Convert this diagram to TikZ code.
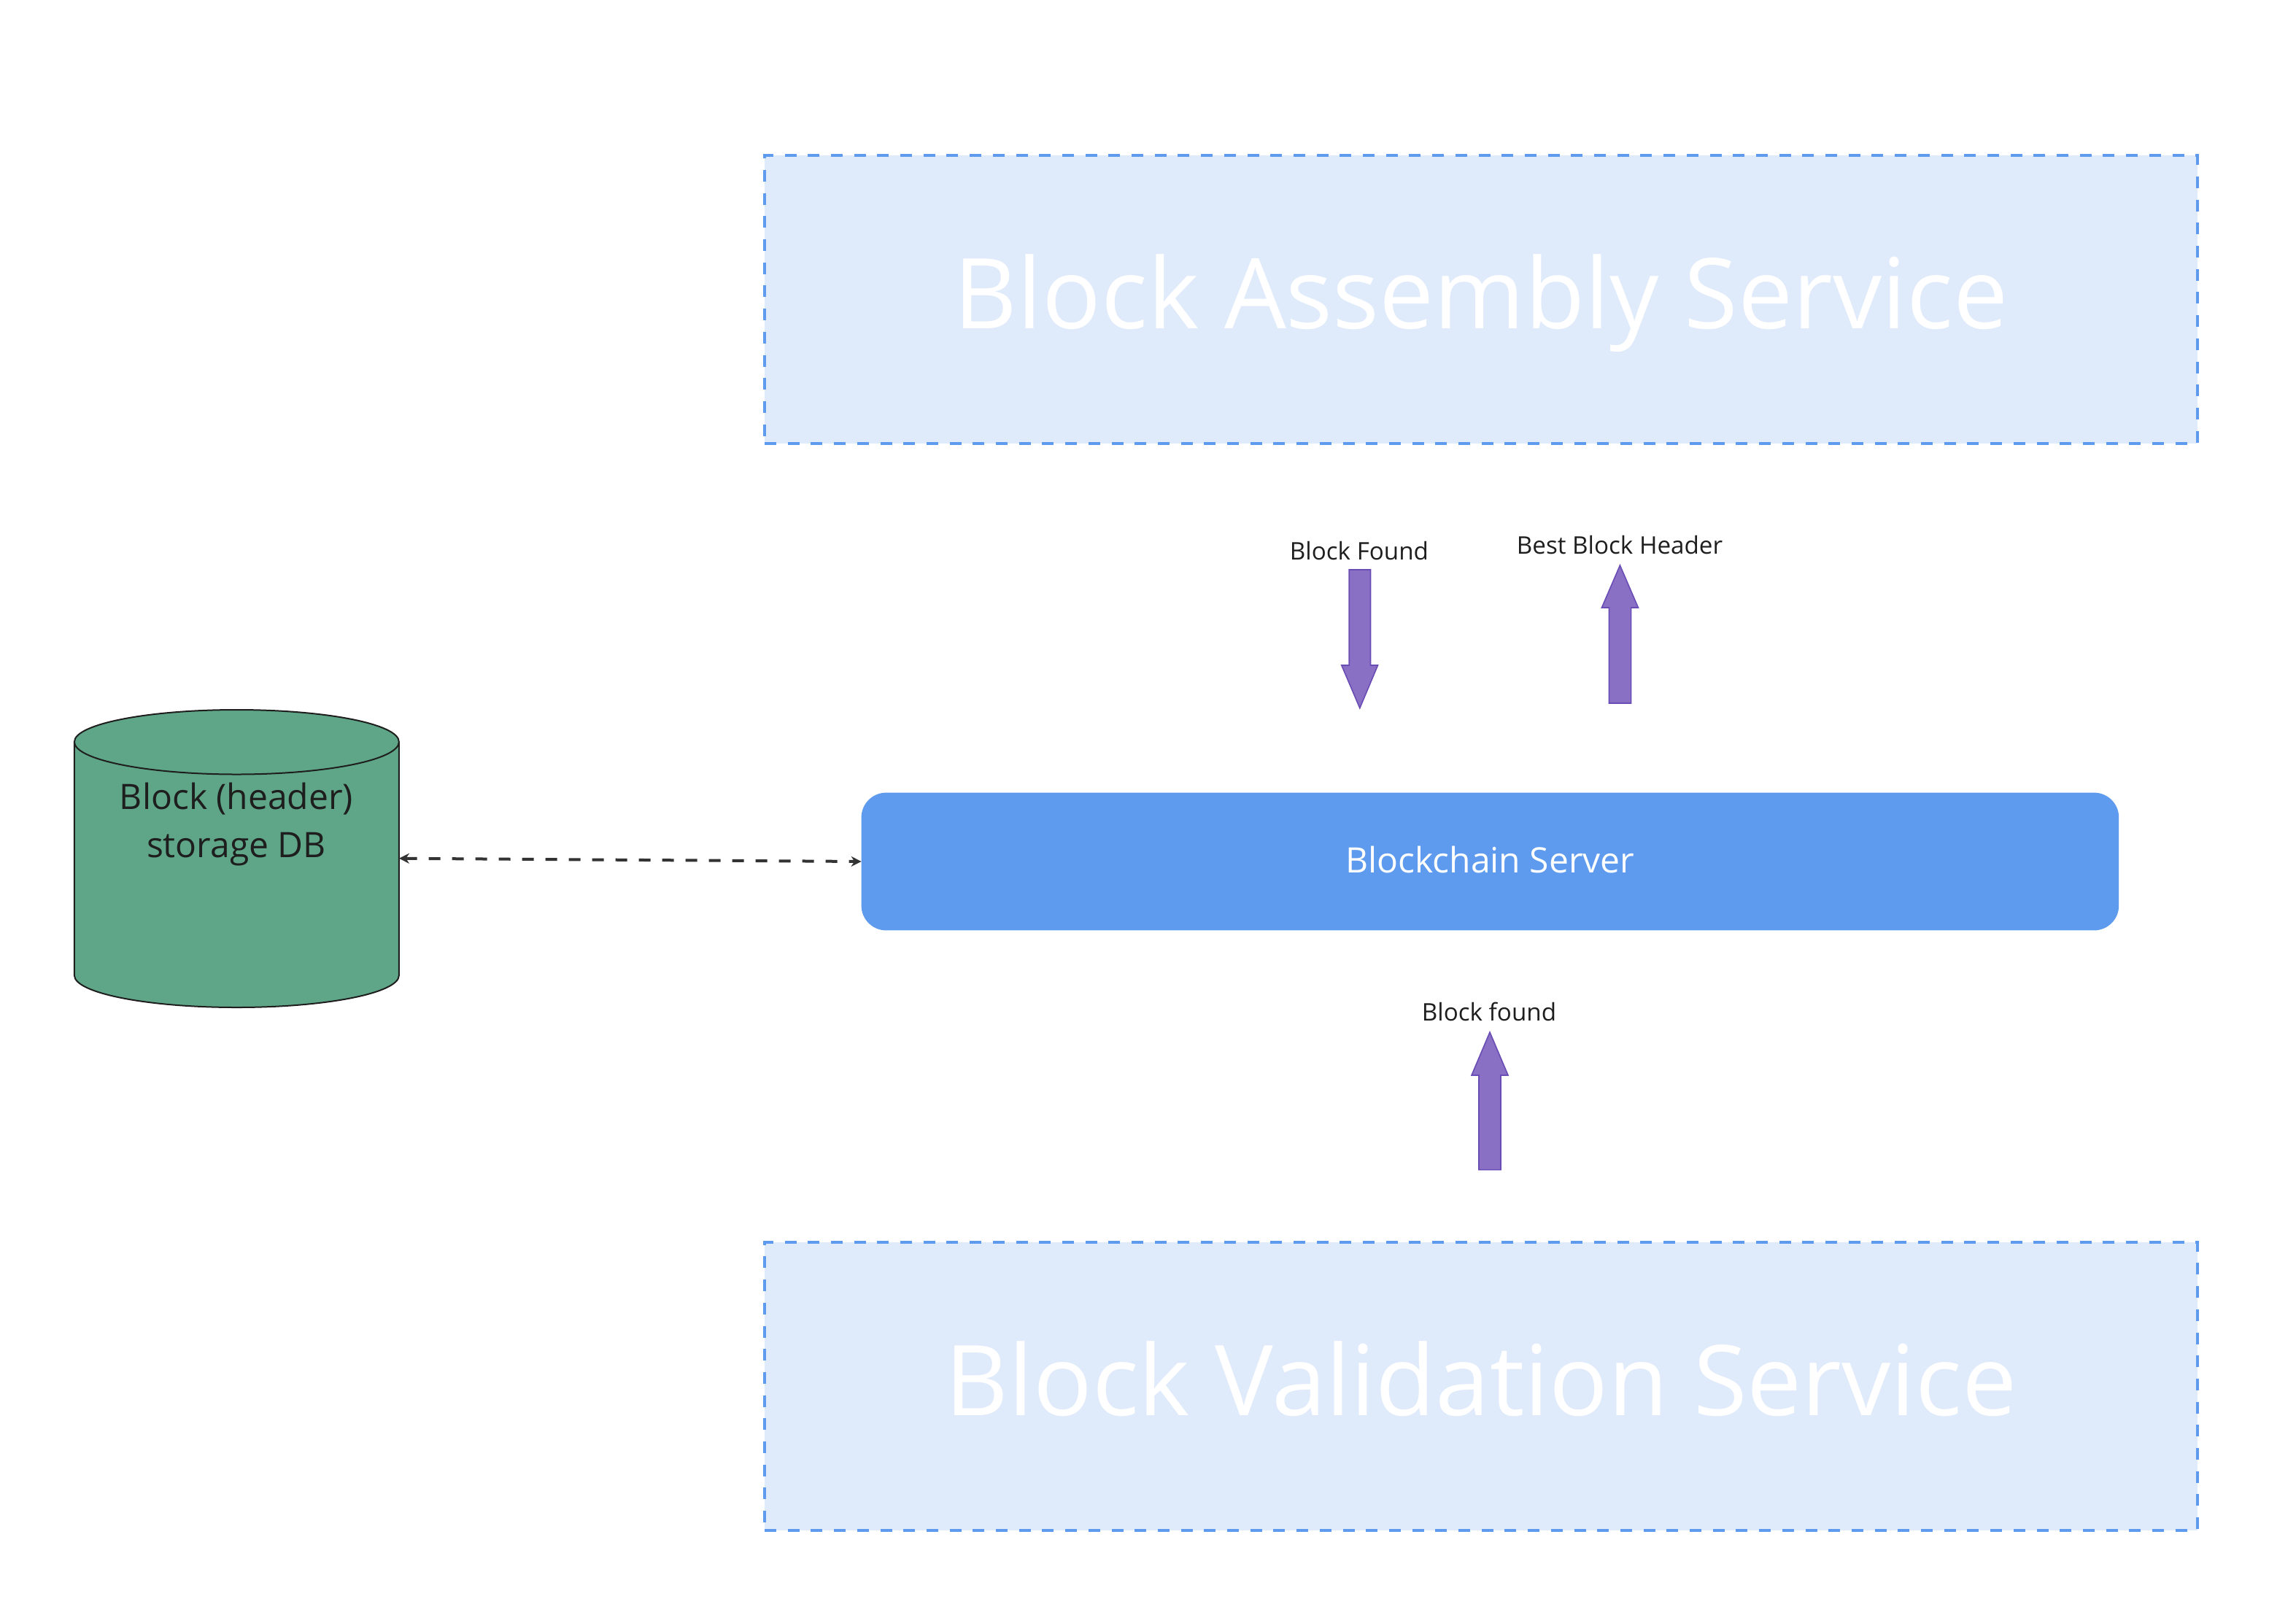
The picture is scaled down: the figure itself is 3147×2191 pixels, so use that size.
\documentclass[tikz,border=0pt]{standalone}
\usepackage{fontspec}
\setmainfont{Open Sans}
\usetikzlibrary{arrows.meta}
\definecolor{blueline}{HTML}{5E9BEF}
\definecolor{bluepale}{HTML}{DFEAFB}
\definecolor{dbgreen}{HTML}{5EA687}
\definecolor{purplefill}{HTML}{8A70C5}
\definecolor{purpleline}{HTML}{6A4CB5}
\definecolor{inkdark}{HTML}{1E1E1E}
\definecolor{linkdark}{HTML}{333333}
\tikzset{
  x=0.5pt,y=-0.5pt,
  servicebox/.style={rectangle,draw=blueline,fill=bluepale,line width=2pt,dash pattern=on 8pt off 7.85pt,
    minimum width=982pt,minimum height=197.5pt,inner sep=0pt,outer sep=0pt,
    text=white,font=\fontsize{67}{80}\selectfont,text height=50pt,text depth=10pt},
  serverbox/.style={rectangle,rounded corners=17pt,fill=blueline,minimum width=861.8pt,minimum height=94.4pt,
    inner sep=0pt,outer sep=0pt,text=white,font=\fontsize{24}{29}\selectfont,text height=18pt,text depth=3pt},
  dbshape/.style={draw=inkdark,fill=dbgreen,line width=1pt},
  dbbox/.style={rectangle,minimum width=222.5pt,minimum height=204.5pt,inner sep=0pt,outer sep=0pt},
  dbtext/.style={align=center,text=inkdark,font=\fontsize{24}{33}\selectfont,inner sep=0pt},
  flowlabel/.style={text=inkdark,font=\fontsize{16.6}{20}\selectfont,inner sep=0pt},
  blockarrow/.style={draw=purpleline,fill=purplefill,line width=0.8pt,line join=miter},
  link/.style={draw=linkdark,line width=2pt,dash pattern=on 8pt off 8pt,{Stealth[length=7pt,width=7pt]}-{Stealth[length=7pt,width=7pt]}}
}
\begin{document}
\begin{tikzpicture}
\useasboundingbox (0,0) rectangle (3147,2191);
\node[servicebox] (assembly) at (2030,410.5) {Block Assembly Service};
\node[servicebox] (validation) at (2030,1900) {Block Validation Service};
\node[serverbox] (server) at (2042.4,1181) {Blockchain Server};
% database cylinder
\node[dbbox] (db) at (324.4,1176.7) {};
\draw[dbshape] (101.9,1017) -- (101.9,1337) arc[start angle=180,end angle=360,x radius=222.5,y radius=-44] -- (546.9,1017)
  arc[start angle=0,end angle=180,x radius=222.5,y radius=-44] -- cycle;
\draw[dbshape] (101.9,1017) arc[start angle=180,end angle=360,x radius=222.5,y radius=-44.5];
\node[dbtext] (dblabel) at (324,1130) {Block (header)\\storage DB};
\draw[link] (db.east) -- (server.west);
% block arrows
\draw[blockarrow] (1849.2,781) -- (1878.5,781) -- (1878.5,912) -- (1888.5,912) -- (1863.8,970.7) -- (1838.8,912) -- (1849.2,912) -- cycle;
\draw[blockarrow] (2205.5,964) -- (2235.6,964) -- (2235.6,833) -- (2245.4,833) -- (2220.4,775) -- (2195.4,833) -- (2205.5,833) -- cycle;
\draw[blockarrow] (2027,1603.6) -- (2057,1603.6) -- (2057,1474) -- (2067,1474) -- (2042,1415) -- (2017,1474) -- (2027,1474) -- cycle;
\node[flowlabel] (foundlabel) at (1863,755) {Block Found};
\node[flowlabel] (bestlabel) at (2220,747) {Best Block Header};
\node[flowlabel] (foundlower) at (2041,1387) {Block found};
\end{tikzpicture}
\end{document}
